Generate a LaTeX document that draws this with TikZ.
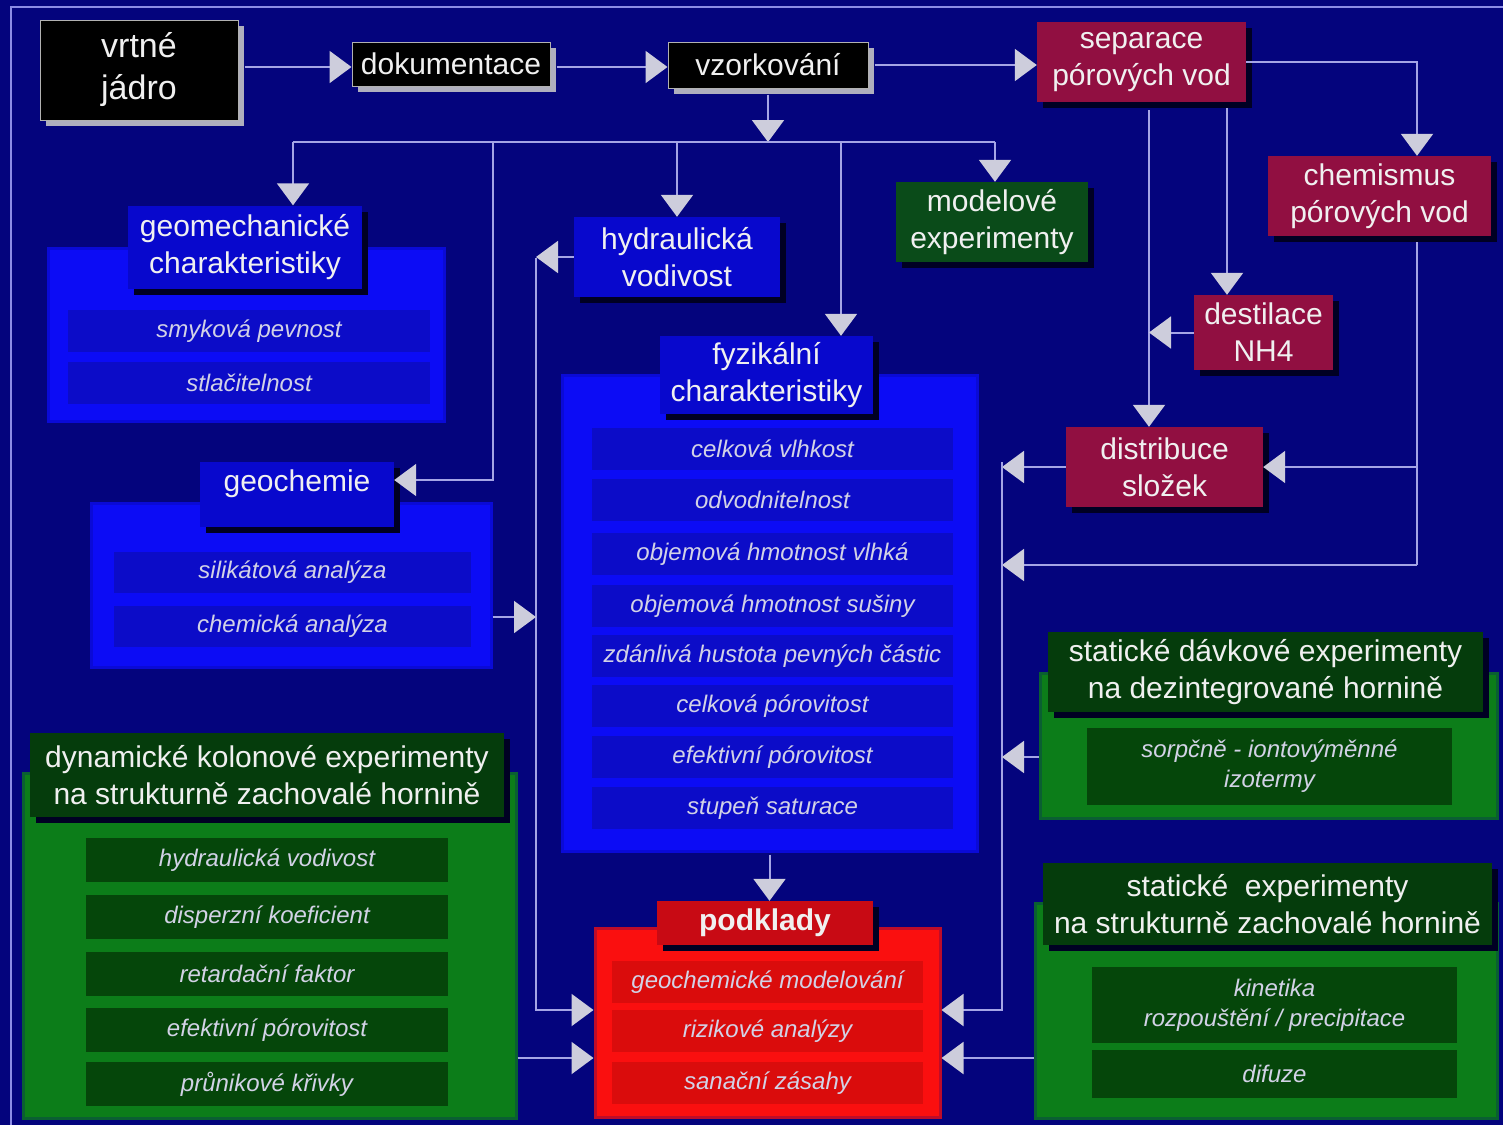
\documentclass[tikz,border=0pt]{standalone}
\usepackage{fontspec}
\setmainfont{Liberation Sans}
\usetikzlibrary{arrows.meta,shadows}
\definecolor{bgc}{RGB}{4,4,125}
\definecolor{framec}{RGB}{140,140,230}
\definecolor{linec}{RGB}{165,165,230}
\definecolor{arrc}{RGB}{205,205,220}
\definecolor{bpc}{RGB}{12,12,245}
\definecolor{brc}{RGB}{12,12,200}
\definecolor{bhc}{RGB}{8,8,205}
\definecolor{gpc}{RGB}{12,125,25}
\definecolor{grc}{RGB}{5,70,10}
\definecolor{ghc}{RGB}{5,60,12}
\definecolor{mgc}{RGB}{10,75,25}
\definecolor{rpc}{RGB}{250,15,15}
\definecolor{rrc}{RGB}{218,12,12}
\definecolor{rhc}{RGB}{200,10,20}
\definecolor{crimc}{RGB}{145,15,65}
\definecolor{txtc}{RGB}{240,240,240}
\definecolor{rowtxt}{RGB}{210,210,230}
\definecolor{shdark}{RGB}{0,0,35}
\definecolor{shgray}{RGB}{175,175,190}
\begin{document}
\begin{tikzpicture}[x=1pt,y=-1pt,
  hd/.style={inner sep=0pt, align=center, text=txtc, font=\fontsize{30}{37}\selectfont},
  darkshadow/.style={general shadow={fill=shdark, shadow xshift=6pt, shadow yshift=-6pt}},
  blk/.style={hd, fill=black, draw=gray!60, line width=1pt, general shadow={fill=shgray, shadow xshift=6pt, shadow yshift=-6pt}},
  crim/.style={hd, fill=crimc, darkshadow},
  bhead/.style={hd, fill=bhc, darkshadow},
  ghead/.style={hd, fill=ghc, darkshadow},
  rhead/.style={hd, fill=rhc, darkshadow},
  mgr/.style={hd, fill=mgc, darkshadow},
  panelB/.style={inner sep=0pt, fill=bpc, draw=bpc!75!bgc, line width=3pt},
  panelG/.style={inner sep=0pt, fill=gpc, draw=gpc!75!bgc, line width=3pt},
  panelR/.style={inner sep=0pt, fill=rpc, draw=rpc!75!bgc, line width=3pt},
  rowbase/.style={inner sep=0pt, text=rowtxt, align=center, font=\fontsize{24}{30}\selectfont\itshape},
  rowB/.style={rowbase, fill=brc},
  rowG/.style={rowbase, fill=grc},
  rowR/.style={rowbase, fill=rrc},
  ln/.style={draw=linec, line width=2pt},
  arr/.style={ln, -{Triangle[length=22pt,width=32pt,color=arrc]}}
]
\useasboundingbox (0,0) rectangle (1503,1125);
\fill[bgc] (0,0) rectangle (1503,1125);
\draw[framec, line width=1.5pt] (11,1125) -- (11,7) -- (1503,7);

% top row
\node[blk, minimum width=198pt, minimum height=100pt, font=\fontsize{34}{42}\selectfont] (jadro) at (139,70) {vrtné\\jádro};
\node[blk, minimum width=198pt, minimum height=44pt] (dok) at (451,64) {dokumentace};
\node[blk, minimum width=200pt, minimum height=46pt] (vzor) at (768,65) {vzorkování};
\node[crim, minimum width=209pt, minimum height=80pt] (sep) at (1141.5,62) {separace\\pórových vod};
\node[crim, minimum width=223pt, minimum height=80pt] (chem) at (1379.5,196) {chemismus\\pórových vod};
\node[crim, minimum width=139pt, minimum height=75pt] (dest) at (1263.5,332.5) {destilace\\NH4};
\node[crim, minimum width=197pt, minimum height=80pt] (distr) at (1164.5,467) {distribuce\\složek};
\node[mgr, minimum width=192pt, minimum height=80pt] (model) at (992,222) {modelové\\experimenty};
\node[bhead, minimum width=206pt, minimum height=80pt] (hydr) at (677,257) {hydraulická\\vodivost};

% geomechanicke
\node[panelB, minimum width=396pt, minimum height=173pt] (gmp) at (246,334.5) {};
\node[rowB, minimum width=362pt, minimum height=42pt] (gm1) at (249,331) {smyková pevnost};
\node[rowB, minimum width=362pt, minimum height=42pt] (gm2) at (249,383) {stlačitelnost};
\node[bhead, minimum width=234pt, minimum height=83pt] (gmh) at (245,247) {geomechanické\\charakteristiky};

% geochemie
\node[panelB, minimum width=400pt, minimum height=164pt] (gcp) at (291,585) {};
\node[rowB, minimum width=357pt, minimum height=41pt] (gc1) at (292.5,572.5) {silikátová analýza};
\node[rowB, minimum width=357pt, minimum height=41pt] (gc2) at (292.5,626.5) {chemická analýza};
\node[bhead, minimum width=194pt, text height=29pt, text depth=36pt] (gch) at (297,494.5) {geochemie};

% fyzikalni
\node[panelB, minimum width=415pt, minimum height=476pt] (fzp) at (769.5,613) {};
\node[rowB, minimum width=361pt, minimum height=42pt] (fz1) at (772.5,449) {celková vlhkost};
\node[rowB, minimum width=361pt, minimum height=42pt] (fz2) at (772.5,500) {odvodnitelnost};
\node[rowB, minimum width=361pt, minimum height=42pt] (fz3) at (772.5,554) {objemová hmotnost vlhká};
\node[rowB, minimum width=361pt, minimum height=42pt] (fz4) at (772.5,606) {objemová hmotnost sušiny};
\node[rowB, minimum width=361pt, minimum height=42pt] (fz5) at (772.5,656) {zdánlivá hustota pevných částic};
\node[rowB, minimum width=361pt, minimum height=42pt] (fz6) at (772.5,706) {celková pórovitost};
\node[rowB, minimum width=361pt, minimum height=42pt] (fz7) at (772.5,757) {efektivní pórovitost};
\node[rowB, minimum width=361pt, minimum height=42pt] (fz8) at (772.5,808) {stupeň saturace};
\node[bhead, minimum width=213pt, minimum height=78pt] (fzh) at (766.5,375) {fyzikální\\charakteristiky};

% podklady
\node[panelR, minimum width=345pt, minimum height=189pt] (podp) at (767.5,1022.5) {};
\node[rowR, minimum width=311pt, minimum height=42pt] (pd1) at (767.5,982) {geochemické modelování};
\node[rowR, minimum width=311pt, minimum height=42pt] (pd2) at (767.5,1031) {rizikové analýzy};
\node[rowR, minimum width=311pt, minimum height=42pt] (pd3) at (767.5,1083) {sanační zásahy};
\node[rhead, minimum width=216pt, minimum height=44pt, font=\fontsize{30}{37}\selectfont\bfseries] (podh) at (765,923) {podklady};

% dynamicke
\node[panelG, minimum width=493pt, minimum height=345pt] (dyp) at (269.5,945.5) {};
\node[rowG, minimum width=362pt, minimum height=44pt] (dy1) at (267,860) {hydraulická vodivost};
\node[rowG, minimum width=362pt, minimum height=44pt] (dy2) at (267,917) {disperzní koeficient};
\node[rowG, minimum width=362pt, minimum height=44pt] (dy3) at (267,974) {retardační faktor};
\node[rowG, minimum width=362pt, minimum height=44pt] (dy4) at (267,1030) {efektivní pórovitost};
\node[rowG, minimum width=362pt, minimum height=44pt] (dy5) at (267,1084) {průnikové křivky};
\node[ghead, minimum width=474pt, minimum height=84pt] (dyh) at (267,775) {dynamické kolonové experimenty\\na strukturně zachovalé hornině};

% staticke davkove
\node[panelG, minimum width=457pt, minimum height=145pt] (sdp) at (1268.5,745.5) {};
\node[rowG, minimum width=365pt, minimum height=77pt] (sd1) at (1269.5,766.5) {sorpčně - iontovýměnné\\izotermy};
\node[ghead, minimum width=435pt, minimum height=80pt] (sdh) at (1265.5,672) {statické dávkové experimenty\\na dezintegrované hornině};

% staticke
\node[panelG, minimum width=462pt, minimum height=215pt] (sxp) at (1266,1011) {};
\node[rowG, minimum width=365pt, minimum height=76pt] (sx1) at (1274.5,1005) {kinetika\\rozpouštění / precipitace};
\node[rowG, minimum width=365pt, minimum height=48pt] (sx2) at (1274.5,1074) {difuze};
\node[ghead, minimum width=449pt, minimum height=82pt] (sxh) at (1267.5,904) {statické~~experimenty\\na strukturně zachovalé hornině};

% helper coordinates
\coordinate (busc) at (768,142);
\coordinate (bL) at (293,142);
\coordinate (b2) at (493,142);
\coordinate (b3) at (677,142);
\coordinate (b4) at (841,142);
\coordinate (bR) at (995,142);
\coordinate (vl) at (536,258);
\coordinate (vr) at (1002,462);
\coordinate (cx) at (1417,0);
\coordinate (sx) at (1149,0);
\coordinate (dx) at (1227,0);
\coordinate (yg) at (0,480);
\coordinate (y617) at (0,617);
\coordinate (yA) at (0,1010);
\coordinate (yB) at (0,1058);
\coordinate (y565) at (0,565);
\coordinate (y757) at (0,757);
\coordinate (y67) at (0,67);

% connectors
\draw[arr, shorten <=6pt] (jadro.east |- y67) -- (dok.west |- y67);
\draw[arr, shorten <=6pt] (dok.east |- y67) -- (vzor.west |- y67);
\draw[arr, shorten <=6pt] (vzor.east) -- (vzor.east -| sep.west);
\draw[arr, shorten <=6pt] (vzor.south) -- (busc);
\draw[ln] (bL) -- (bR);
\draw[arr] (bL) -- (bL |- gmh.north);
\draw[arr] (b2) |- (gch.east |- yg);
\draw[arr] (b3) -- (b3 |- hydr.north);
\draw[arr] (b4) -- (b4 |- fzh.north);
\draw[arr] (bR) -- (bR |- model.north);
\draw[arr] (hydr.west) -- (hydr.west -| vl);
\draw[arr] (vl) |- (podp.west |- yA);
\draw[arr] (gcp.east |- y617) -- (vl |- y617);
\draw[arr] (dyp.east |- yB) -- (podp.west |- yB);
\draw[arr, shorten <=2pt] (fzp.south) -- (fzp.south |- podh.north);
\draw[arr] (sep.east) -| (cx |- chem.north);
\draw[arr, shorten <=8pt] (sep.south -| sx) -- (sx |- distr.north);
\draw[arr, shorten <=6pt] (sep.south -| dx) -- (dx |- dest.north);
\draw[arr] (dest.west) -- (dest.west -| sx);
\draw[ln, shorten <=6pt] (cx |- chem.south) -- (cx |- y565);
\draw[arr] (cx |- distr.east) -- (distr.east);
\draw[arr] (cx |- y565) -- (vr |- y565);
\draw[arr] (distr.west) -- (distr.west -| vr);
\draw[arr] (vr) |- (podp.east |- yA);
\draw[arr] (sdp.west |- y757) -- (vr |- y757);
\draw[arr] (sxp.west |- yB) -- (podp.east |- yB);
\end{tikzpicture}
\end{document}
